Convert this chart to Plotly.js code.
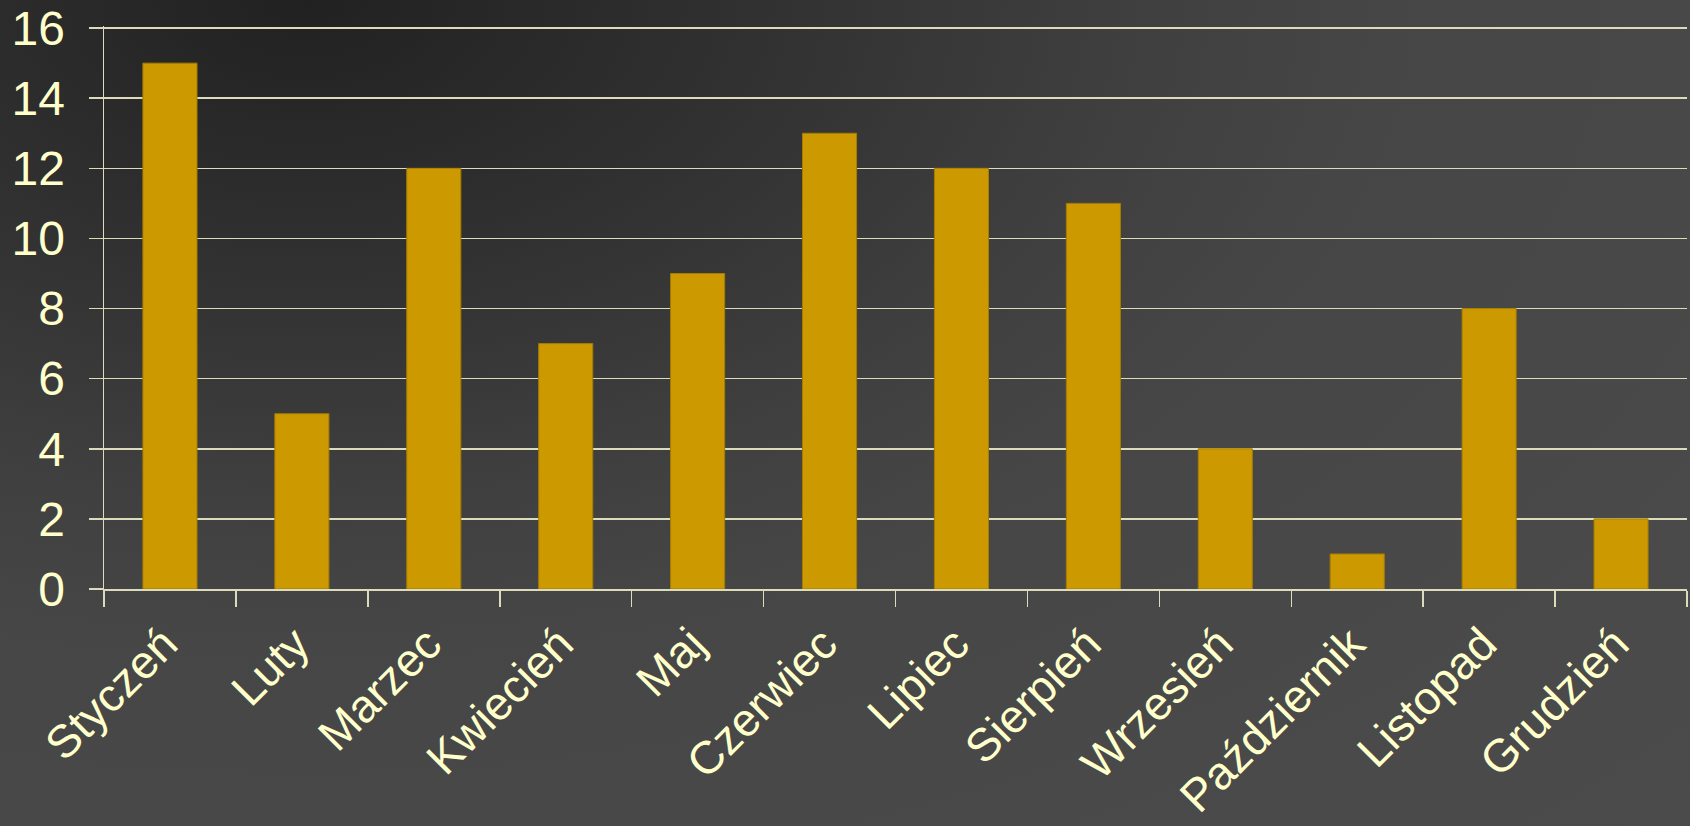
<!DOCTYPE html>
<html>
<head>
<meta charset="utf-8">
<script src="https://cdn.plot.ly/plotly-3.0.1.min.js"></script>
<style>
html, body { margin:0; padding:0; width:1690px; height:826px; overflow:hidden;
  background: radial-gradient(ellipse farthest-corner at 18% 0%, #212121 0%, #333333 26%, #3f3f3f 42%, #464646 55%, #4a4a4a 86%, #4b4b4b 100%); }
#chart { width:1690px; height:826px; }
</style>
</head>
<body>
<div id="chart"></div>
<script>
const months = ["Styczeń","Luty","Marzec","Kwiecień","Maj","Czerwiec","Lipiec","Sierpień","Wrzesień","Październik","Listopad","Grudzień"];
const values = [15, 5, 12, 7, 9, 13, 12, 11, 4, 1, 8, 2];
const yTicks = [0, 2, 4, 6, 8, 10, 12, 14, 16];

const textColor = "#FFFFCC";
const lineColor = "#DCDCBC";

Plotly.newPlot("chart", [{
  type: "bar",
  x: months,
  y: values,
  marker: { color: "#CC9900", line: { color: "#A67C00", width: 1 } },
  hoverinfo: "x+y"
}], {
  width: 1690, height: 826,
  paper_bgcolor: "rgba(0,0,0,0)",
  plot_bgcolor: "rgba(0,0,0,0)",
  margin: { l: 104, r: 3, t: 26, b: 237 },
  bargap: 0.59,
  showlegend: false,
  font: { family: "Liberation Sans, Arial, sans-serif", size: 46, color: textColor },
  xaxis: {
    type: "category",
    tickangle: -45,
    tickson: "boundaries",
    ticks: "outside", ticklen: 16, tickwidth: 1.5, tickcolor: lineColor,
    showline: true, linecolor: lineColor, linewidth: 1.5,
    showgrid: false,
    ticklabelstandoff: 8,
    ticklabelshift: -6,
    tickfont: { size: 46, color: textColor }
  },
  yaxis: {
    range: [0, 16.06],
    tickvals: yTicks,
    ticks: "outside", ticklen: 14, tickwidth: 1.5, tickcolor: lineColor,
    showline: true, linecolor: lineColor, linewidth: 1.5,
    showgrid: true, gridcolor: lineColor, gridwidth: 1.5,
    zeroline: false,
    ticklabelstandoff: 14,
    tickfont: { size: 48, color: textColor }
  }
}, { displayModeBar: false, staticPlot: true });
</script>
</body>
</html>
